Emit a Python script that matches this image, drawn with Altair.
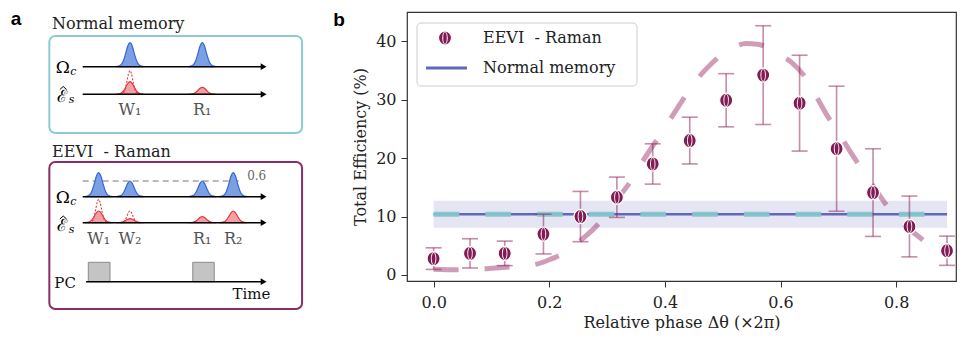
import altair as alt
import pandas as pd

# ---------------- panel b data ----------------
PHASE = [0.000, 0.063, 0.123, 0.190, 0.254, 0.317, 0.379, 0.443, 0.506, 0.570, 0.633, 0.697, 0.760, 0.823, 0.888]
EFF = [2.8, 3.7, 3.7, 7.0, 10.0, 13.3, 19.0, 23.0, 29.9, 34.2, 29.4, 21.6, 14.1, 8.3, 4.15]
EFF_ERR = [1.85, 2.5, 2.1, 3.4, 4.3, 3.45, 3.45, 4.0, 4.55, 8.45, 8.2, 10.7, 7.5, 5.2, 2.5]

FIT_PHASE = [0.00, 0.04, 0.08, 0.12, 0.16, 0.18, 0.20, 0.22, 0.24, 0.26, 0.28, 0.30, 0.32, 0.34,
             0.36, 0.38, 0.40, 0.42, 0.44, 0.46, 0.48, 0.50, 0.52, 0.54, 0.56, 0.58, 0.60, 0.62,
             0.64, 0.66, 0.68, 0.70, 0.72, 0.74, 0.76, 0.78, 0.80, 0.82, 0.84, 0.86, 0.885]
FIT_EFF = [1.0, 0.9, 1.0, 1.3, 1.6, 1.9, 2.6, 3.5, 4.8, 6.4, 8.2, 10.6, 13.3, 15.9,
           19.2, 22.2, 25.2, 28.3, 31.3, 34.0, 36.1, 37.8, 39.0, 39.6, 39.5, 38.8, 37.6, 36.3,
           34.2, 30.9, 27.4, 24.4, 21.2, 18.2, 15.3, 12.4, 9.9, 8.0, 6.5, 4.8, 3.6]

NORMAL_PHASE = [0.0, 0.888]
NORMAL_EFF = 10.4
NORMAL_ERR = 2.3

X_TICKS = [0.0, 0.2, 0.4, 0.6, 0.8]
Y_TICKS = [0, 10, 20, 30, 40]

SERIES = ["EEVI\u00a0 - Raman", "Normal memory"]

# ---------------- panel a (schematic) data ----------------
# pulse shape: time offsets and relative heights
PROFILE_DT = [-0.9, -0.6, -0.45, -0.3, -0.15, 0.0, 0.15, 0.3, 0.45, 0.6, 0.9]
PROFILE_H = [0.0, 0.07, 0.22, 0.51, 0.85, 1.0, 0.85, 0.51, 0.22, 0.07, 0.0]

NM_CTRL_T = [3.085, 7.80]
NM_CTRL_A = [24, 24]
NM_SIG_T = [3.085, 7.80]
NM_SIG_A = [12.7, 7.0]
NM_IN_T = [3.085]
NM_IN_A = [23.7]

EV_CTRL_T = [1.04, 3.085, 7.80, 9.82]
EV_CTRL_A = [24, 15.7, 15.7, 24]
EV_SIG_T = [1.04, 3.085, 7.80, 9.82]
EV_SIG_A = [11.7, 4.0, 6.0, 11.7]
EV_IN_T = [1.04, 3.085]
EV_IN_A = [23.3, 11.7]

PC_START = [0.365, 7.18]
PC_END = [1.78, 8.58]

ROW_NM_CTRL, ROW_NM_SIG = 54.7, 82.3
ROW_EV_CTRL, ROW_EV_SIG, ROW_EV_PC = 184.7, 210.7, 269.7
ROW_DASH = 169.0
PC_TOP = 250.3

AX_T = [-4.873, 16.98]
AX_V = [0, 300]

tA = alt.Scale(domain=AX_T, nice=False, zero=False)
vA = alt.Scale(domain=AX_V, nice=False, zero=False, reverse=True)

SERIF = "DejaVu Serif"


def pulses(times, amps, base, key, scale=1.0):
    rows = []
    for i, (t0, a) in enumerate(zip(times, amps)):
        for dt, h in zip(PROFILE_DT, PROFILE_H):
            rows.append({"id": f"{key}{i}", "t": t0 + dt * scale, "top": base - a * h, "base": base})
    return pd.DataFrame(rows)


ctrl_df = pd.concat([pulses(NM_CTRL_T, NM_CTRL_A, ROW_NM_CTRL, "nc"),
                     pulses(EV_CTRL_T, EV_CTRL_A, ROW_EV_CTRL, "ec")])
sig_df = pd.concat([pulses(NM_SIG_T, NM_SIG_A, ROW_NM_SIG, "ns"),
                    pulses(EV_SIG_T, EV_SIG_A, ROW_EV_SIG, "es")])
in_df = pd.concat([pulses(NM_IN_T, NM_IN_A, ROW_NM_SIG, "ni", 0.7),
                   pulses(EV_IN_T, EV_IN_A, ROW_EV_SIG, "ei", 0.7)])


def AT(f="t"):
    return alt.X(f"{f}:Q", scale=tA, axis=None)


def AV(f="v"):
    return alt.Y(f"{f}:Q", scale=vA, axis=None)


ctrl = alt.Chart(ctrl_df).mark_area(interpolate="monotone", fill="#7b9fe3", stroke="#3567d4",
                                     strokeWidth=1.2).encode(AT(), AV("top"), y2="base:Q", detail="id:N")
sig = alt.Chart(sig_df).mark_area(interpolate="monotone", fill="#f2a0a4", stroke="#e0393f",
                                   strokeWidth=1.2).encode(AT(), AV("top"), y2="base:Q", detail="id:N")
inp = alt.Chart(in_df).mark_line(interpolate="monotone", stroke="#e0393f", strokeWidth=1.1,
                                  strokeDash=[2, 1.5]).encode(AT(), AV("top"), detail="id:N")

axes_df = pd.DataFrame({
    "t": [0.0, 0.0, 0.0, 0.0, 0.22],
    "t2": [11.8] * 5,
    "v": [ROW_NM_CTRL, ROW_NM_SIG, ROW_EV_CTRL, ROW_EV_SIG, ROW_EV_PC],
})
axes_rules = alt.Chart(axes_df).mark_rule(color="black", strokeWidth=1.5).encode(AT(), x2="t2:Q", y=AV())
arrows = alt.Chart(axes_df).mark_point(shape="triangle-right", filled=True, color="black", size=45,
                                       opacity=1).encode(x=AT("t2"), y=AV())

dash_df = pd.DataFrame({"t": [0.0], "t2": [10.37], "v": [ROW_DASH]})
dash = alt.Chart(dash_df).mark_rule(color="#777777", strokeWidth=1.2, strokeDash=[6, 4]).encode(
    AT(), x2="t2:Q", y=AV())

pc_df = pd.DataFrame({"t": PC_START, "t2": PC_END, "v": [PC_TOP] * 2, "v2": [ROW_EV_PC] * 2})
pc = alt.Chart(pc_df).mark_rect(fill="#c4c4c4", stroke="#8a8a8a", strokeWidth=1).encode(
    AT(), x2="t2:Q", y=AV(), y2="v2:Q")

box_df = pd.DataFrame({"t": [-2.177, -2.177], "t2": [14.31, 14.31], "v": [24, 150], "v2": [121, 297],
                       "c": ["#8ecbd0", "#8c2c63"]})
boxes = alt.Chart(box_df).mark_rect(fillOpacity=0, strokeWidth=2, cornerRadius=6).encode(
    AT(), x2="t2:Q", y=AV(), y2="v2:Q", stroke=alt.Stroke("c:N", scale=None))

titles_df = pd.DataFrame({"t": [-2.0, -2.0], "v": [12, 140], "s": ["Normal memory", SERIES[0]]})
titles = alt.Chart(titles_df).mark_text(align="left", baseline="middle", fontSize=16, color="#222222",
                                        font=SERIF).encode(AT(), AV(), text="s:N")

lab_df = pd.DataFrame({"t": [3.085, 7.80, 1.04, 3.085, 7.80, 9.82],
                       "v": [98, 98, 227.3, 227.3, 227.3, 227.3],
                       "s": ["W₁", "R₁", "W₁", "W₂", "R₁", "R₂"]})
labs = alt.Chart(lab_df).mark_text(align="center", baseline="middle", fontSize=16, color="#555555",
                                   font=SERIF).encode(AT(), AV(), text="s:N")

sym_df = pd.DataFrame({"t": [-1.30, -1.30, -1.32, -1.32], "v": [55.8, 186.3, 84.5, 214.0],
                       "s": ["Ω", "Ω", "ℰ", "ℰ"]})
syms = alt.Chart(sym_df).mark_text(align="center", baseline="middle", fontSize=17, color="black",
                                   font=SERIF).encode(AT(), AV(), text="s:N")
# circumflex over the signal-field symbol, drawn as a small chevron
HAT = "M-1,0.45L0,-0.45L1,0.45"
hat_df = pd.DataFrame({"t": [-1.27, -1.27], "v": [76.0, 205.5]})
hats = alt.Chart(hat_df).mark_point(shape=HAT, filled=False, stroke="black", strokeWidth=1, size=45,
                                    opacity=1).encode(AT(), AV())
sub_df = pd.DataFrame({"t": [-0.61, -0.61, -0.72, -0.72], "v": [59.5, 190, 87.5, 217.5],
                       "s": ["c", "c", "s", "s"]})
subs = alt.Chart(sub_df).mark_text(align="center", baseline="middle", fontSize=11, fontStyle="italic",
                                   color="black", font=SERIF).encode(AT(), AV(), text="s:N")

misc_df = pd.DataFrame({"t": [-1.15, 11.0], "v": [271.3, 282.3], "s": ["PC", "Time"]})
misc = alt.Chart(misc_df).mark_text(align="center", baseline="middle", fontSize=15, color="#111111",
                                    font=SERIF).encode(AT(), AV(), text="s:N")
lvl_df = pd.DataFrame({"t": [11.35], "v": [163.7], "s": ["0.6"]})
lvl = alt.Chart(lvl_df).mark_text(align="center", baseline="middle", fontSize=12, color="#666666",
                                  font=SERIF).encode(AT(), AV(), text="s:N")

pl_df = pd.DataFrame({"t": [-4.35, 16.72], "v": [-2, -1], "s": ["a", "b"]})
plab = alt.Chart(pl_df).mark_text(align="center", baseline="top", fontSize=19, fontWeight="bold",
                                  color="black", font="Liberation Sans").encode(AT(), AV(), text="s:N")

panel_a = alt.layer(boxes, dash, ctrl, sig, inp, pc, axes_rules, arrows, titles, labs, syms, hats, subs,
                    misc, lvl, plab).properties(width=335, height=300,
                                                view=alt.ViewBackground(strokeOpacity=0))

# ---------------- panel b ----------------
xs = alt.Scale(domain=[-0.046, 0.9035], nice=False, zero=False)
ys = alt.Scale(domain=[-1.03, 45.0], nice=False, zero=False)
AXX = alt.Axis(values=X_TICKS, format=".1f", title="Relative phase Δθ (×2π)", grid=False, domain=False,
               tickSize=6, tickColor="#333333", labelPadding=7, labelFontSize=16, titleFontSize=16,
               titleFontWeight="normal", titlePadding=4, labelColor="#222222", titleColor="#222222",
               labelFont=SERIF, titleFont=SERIF)
AXY = alt.Axis(values=Y_TICKS, format="d", title="Total Efficiency (%)", grid=False, domain=False,
               tickSize=6, tickColor="#333333", labelPadding=5, labelFontSize=16, titleFontSize=16,
               titleFontWeight="normal", titlePadding=7, labelColor="#222222", titleColor="#222222",
               labelFont=SERIF, titleFont=SERIF)


def bx(f="phase"):
    return alt.X(f"{f}:Q", scale=xs, axis=AXX)


def by(f="eff"):
    return alt.Y(f"{f}:Q", scale=ys, axis=AXY)


pts_df = pd.DataFrame({"phase": PHASE, "eff": EFF,
                       "lo": [e - d for e, d in zip(EFF, EFF_ERR)],
                       "hi": [e + d for e, d in zip(EFF, EFF_ERR)]})
fit_df = pd.DataFrame({"phase": FIT_PHASE, "eff": FIT_EFF})
norm_df = pd.DataFrame({"phase": NORMAL_PHASE, "eff": [NORMAL_EFF] * 2,
                        "lo": [NORMAL_EFF - NORMAL_ERR] * 2, "hi": [NORMAL_EFF + NORMAL_ERR] * 2})

band = alt.Chart(norm_df).mark_area(color="#e5e5f3").encode(bx(), by("lo"), y2="hi:Q")
nline = alt.Chart(norm_df).mark_line(color="#6266bd", strokeWidth=2.5).encode(bx(), by())
ndash = alt.Chart(norm_df).mark_line(color="#86c5ca", strokeWidth=5, strokeDash=[25.7, 26],
                                     opacity=0.95).encode(bx(), by())
fit = alt.Chart(fit_df).mark_line(color="#a23c74", opacity=0.5, strokeWidth=5, strokeDash=[25, 26],
                                  interpolate="monotone").encode(bx(), by())
ebar = alt.Chart(pts_df).mark_rule(color="#8b1c56", opacity=0.5, strokeWidth=1.6).encode(
    bx(), by("lo"), y2="hi:Q")
cap_lo = alt.Chart(pts_df).mark_tick(orient="horizontal", color="#8b1c56", opacity=0.5, size=16,
                                     thickness=1.6).encode(bx(), by("lo"))
cap_hi = alt.Chart(pts_df).mark_tick(orient="horizontal", color="#8b1c56", opacity=0.5, size=16,
                                     thickness=1.6).encode(bx(), by("hi"))

OUTER = "M0,-1A0.92,1 0 1,1 0,1A0.92,1 0 1,1 0,-1Z"
INNER = "M0,-0.88A0.32,0.88 0 1,1 0,0.88A0.32,0.88 0 1,1 0,-0.88Z"
MK_SIZE = 200
mk = alt.Chart(pts_df).mark_point(shape=OUTER, filled=True, fill="#821a54", stroke="white",
                                  strokeWidth=1.2, size=MK_SIZE, opacity=1).encode(bx(), by())
mk_in = alt.Chart(pts_df).mark_point(shape=INNER, filled=False, stroke="white", strokeWidth=1,
                                     size=MK_SIZE, opacity=1).encode(bx(), by())

one = pd.DataFrame({"k": [0]})
leg_box = alt.Chart(one).mark_rect(fill="white", fillOpacity=0.85, stroke="#cccccc", strokeWidth=1,
                                   cornerRadius=4).encode(x=alt.value(10), x2=alt.value(230),
                                                          y=alt.value(11), y2=alt.value(74))
leg_mk = alt.Chart(one).mark_point(shape=OUTER, filled=True, fill="#821a54", stroke="white",
                                   strokeWidth=1.2, size=MK_SIZE, opacity=1).encode(x=alt.value(38), y=alt.value(26))
leg_mk_in = alt.Chart(one).mark_point(shape=INNER, filled=False, stroke="white", strokeWidth=1,
                                      size=MK_SIZE, opacity=1).encode(x=alt.value(38), y=alt.value(26))
leg_line = alt.Chart(one).mark_rule(color="#6266bd", strokeWidth=3).encode(
    x=alt.value(19), x2=alt.value(60), y=alt.value(56))
leg_t1 = alt.Chart(one).mark_text(align="left", baseline="middle", fontSize=16, font=SERIF,
                                  color="#222222").encode(x=alt.value(76), y=alt.value(26),
                                                          text=alt.value(SERIES[0]))
leg_t2 = alt.Chart(one).mark_text(align="left", baseline="middle", fontSize=16, font=SERIF,
                                  color="#222222").encode(x=alt.value(76), y=alt.value(56),
                                                          text=alt.value(SERIES[1]))

panel_b = alt.layer(band, nline, ndash, fit, ebar, cap_lo, cap_hi, mk, mk_in,
                    leg_box, leg_mk, leg_mk_in, leg_line, leg_t1, leg_t2).properties(
    width=549, height=269,
    view=alt.ViewBackground(stroke="#333333", strokeWidth=1.2))

chart = alt.hconcat(panel_a, panel_b, spacing=64, bounds="flush").properties(
    padding={"left": 0, "top": 2, "right": 0, "bottom": 0},
    background="white",
).configure(font=SERIF)

chart.save("out.html", embed_options={"renderer": "svg", "actions": False})
